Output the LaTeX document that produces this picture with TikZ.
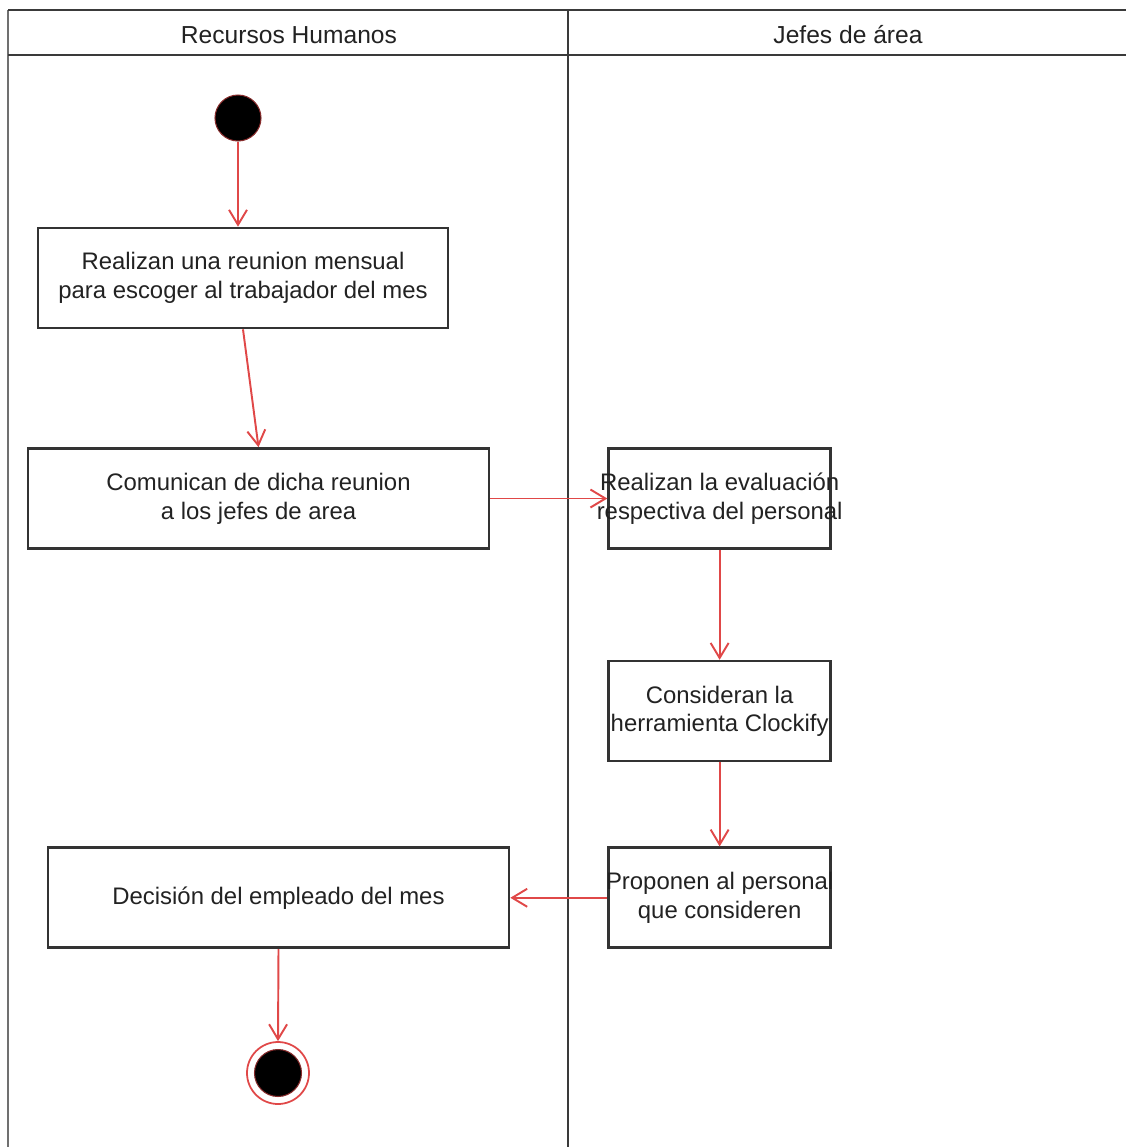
\documentclass[tikz,border=0pt]{standalone}
\usepackage{fontspec}
\setmainfont{Liberation Sans}
\definecolor{arrowred}{HTML}{E04848}
\definecolor{boxgray}{HTML}{333333}
\definecolor{lanegray}{HTML}{3A3A3A}
\definecolor{edgegray}{HTML}{707070}
\definecolor{textgray}{HTML}{222222}
\usetikzlibrary{positioning, arrows.meta}

\begin{document}
\begin{tikzpicture}[
    >={Straight Barb[length=0.3cm, width=0.36cm]},
    act/.style={
      rectangle, draw=boxgray, line width=1.5pt,
      minimum width=#1, minimum height=2cm,
      inner sep=0pt, align=center, text=textgray,
      font=\fontsize{13.6}{16.3}\selectfont,
    },
    actlbl/.style={
      align=center, inner sep=0pt, text=textgray,
      font=\fontsize{13.6}{16.3}\selectfont,
    },
    lanetitle/.style={font=\fontsize{14}{16}\selectfont, text=textgray},
    lane/.style={lanegray, line width=1.7pt},
    startnode/.style={
      circle, fill=black, draw=arrowred!60!black, line width=0.6pt,
      minimum size=0.92cm, inner sep=0pt,
    },
    endnode/.style={
      circle, draw=arrowred, line width=1pt,
      minimum size=1.24cm, inner sep=0pt,
      path picture={\filldraw[fill=black, draw=arrowred!60!black, line width=0.6pt]
        (path picture bounding box.center) circle (0.47cm);},
    },
    flow/.style={->, arrowred, line width=1.1pt},
  ]

  \useasboundingbox (0,0) rectangle (22.52,-22.94);

  % swimlanes
  \draw[lane, edgegray] (0.16,-0.2) -- (0.16,-22.94);
  \draw[lane] (0.16,-0.2) -- (22.52,-0.2);
  \draw[lane] (0.16,-1.1) -- (22.52,-1.1);
  \draw[lane] (11.36,-0.2) -- (11.36,-22.94);
  \node[lanetitle] (rh-title) at (5.78,-0.7) {Recursos Humanos};
  \node[lanetitle] (jefes-title) at (16.96,-0.7) {Jefes de área};

  \node[startnode] (start) at (4.76,-2.36) {};

  \node[act=8.2cm] (meet) at (4.86,-5.56)
    {Realizan una reunion mensual\\para escoger al trabajador del mes};

  \node[act=9.22cm] (notify) at (5.17,-9.97)
    {Comunican de dicha reunion\\a los jefes de area};

  \node[act=4.44cm, right=2.34cm of notify,
    label={[actlbl]center:Realizan la evaluación\\respectiva del personal}] (eval) {};

  \node[act=4.44cm, below=2.2cm of eval,
    label={[actlbl]center:Consideran la\\herramienta Clockify}] (tool) {};

  \node[act=4.44cm, below=1.68cm of tool,
    label={[actlbl]center:Proponen al personal\\que consideren}] (propose) {};

  \node[act=9.22cm, left=1.94cm of propose] (decide) {Decisión del empleado del mes};

  \node[endnode] (stop) at (5.56,-21.46) {};

  \draw[flow] (start) -- (meet.north -| start);
  \draw[flow] (meet.south) -- (notify.north);
  \draw[flow] (notify.east) -- (eval.west);
  \draw[flow] (eval.south) -- (tool.north);
  \draw[flow] (tool.south) -- (propose.north);
  \draw[flow] (propose.west) -- (decide.east);
  \draw[flow] (decide.south) -- (stop.north);
\end{tikzpicture}
\end{document}
